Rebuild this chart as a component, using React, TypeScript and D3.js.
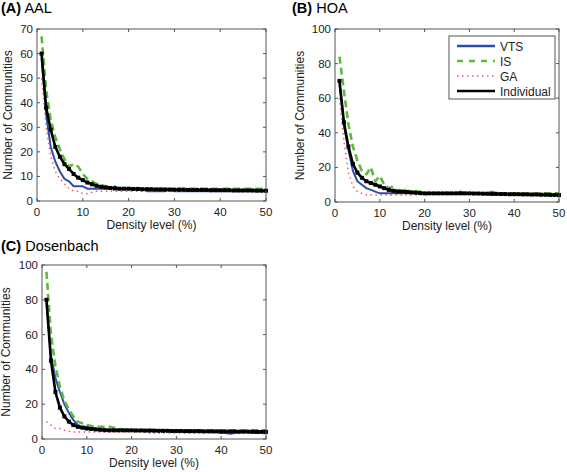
import React from "react";
import * as d3 from "d3";

const density = d3.range(1, 51);

// Panel A (AAL)
const aalVTS = [58,35,22,16,12,9,8,6,6,6,5,5,5,5,5,5,6,5,5,5,5,5,5,4,4,4,4,4,5,4,4,4,4,4,4,4,4,4,4,4,4,4,4,4,4,4,4,4,4,4];
const aalIS = [67,45,33,26,21,17,14,15,14,11,9,8,7,6.5,6,5.5,5.2,5,5,5,5,5,5,5,5,5,5,5,5,5,5,5,5,5,5,5,5,5,5,5,5,5,5,5,5,5,5,5,5,5];
const aalGA = [50,30,18,12,9,7,5,4,4,3,3,3.5,4,4,4,4,4,4,4,4,4,4,4,4,4,4,4,4,4,4,4,4,4,4,4,4,4,4,4,4,4,4,4,4,4,4,4,4,4,4];
const aalInd = [60,38,29,22,18,15,13,11,9.5,8.5,7.5,6.8,6.2,5.8,5.5,5.3,5.1,5,5,5,4.9,4.9,4.8,4.8,4.8,4.7,4.7,4.7,4.6,4.6,4.6,4.6,4.5,4.5,4.5,4.5,4.5,4.4,4.4,4.4,4.4,4.4,4.3,4.3,4.3,4.3,4.3,4.2,4.2,4.2];

// Panel B (HOA)
const hoaVTS = [68,44,30,18,12,10,8,7,6,5,5,5,5,5,5,5,5,5,5,5,5,5,5,5,5,5,5,5,5,5,5,5,4.5,4.5,4.5,4.5,4.5,4.5,4.5,4.5,4.5,4,4,4,4,4,4,4,4,4];
const hoaIS = [84,64,45,32,24,18,16,20,12,15,10,8,9,6,8,6,7,6,6,5,5,5,5,5,5,5,5,6,5,5,5,5,5,5,6,5,5,5,5,5,5,5,5,5,5,5,5,5,5,5];
const hoaGA = [60,35,17,9,6,5,4,4,4,4,4,4,4,4,4,4,4,4,4,4,5,5,5,5,5,5,5,5,5,5,5,5,5,5,5,5,5,5,5,5,5,5,5,5,5,5,5,5,5,5];
const hoaInd = [70,46,32,22,17,14,12,11,10,9,8,7,6.5,6,6,5.8,5.6,5.4,5.2,5,5,5,5,5,5,5,5,5,5,5,4.9,4.9,4.8,4.8,4.7,4.7,4.6,4.6,4.5,4.5,4.5,4.4,4.4,4.3,4.3,4.2,4.2,4.1,4.1,4];

// Panel C (Dosenbach)
const dosVTS = [78,48,35,27,20,15,11,8,7,7,6.5,6,5.5,5.5,5,5,5,5,5,5,5,5,5,5.5,5,5,5,4.5,4.5,4,4,4,4,4,4,4,4,4,4,3.5,3.5,3,3.5,4,4,4,3.5,3.5,4,4];
const dosIS = [96,60,42,30,22,17,13,10,9,8,7.5,7,7,7,7,6.5,6,5.5,5,5,5,5.5,5,5,5,5,5,5,5,5,5,5,5,5,5,5,5,5,5,5,5,5,5,5,5,5,5,5,5,5];
const dosGA = [10,8,6,6,5,4.5,4,4,4,4,4,4,4,4,4,4,4,4,4,4,4,4,4,3.5,3.5,3.5,3.5,3.5,3.5,3.5,3.5,3.5,3.5,3.5,3.5,3.5,3.5,3.5,3.5,3.5,3,3.5,3.5,3.5,3.5,3.5,3.5,3.5,3,3];
const dosInd = [80,45,27,18,13,10,8,7,6.5,6,5.8,5.5,5.3,5.1,5,5,5,5,5,5,4.9,4.9,4.8,4.8,4.8,4.7,4.7,4.7,4.6,4.6,4.6,4.5,4.5,4.5,4.5,4.4,4.4,4.4,4.4,4.3,4.3,4.3,4.3,4.2,4.2,4.2,4.2,4.1,4.1,4.1];

const xTicks = [0, 10, 20, 30, 40, 50];
const legendLabels = ["VTS", "IS", "GA", "Individual"];

const FONT = "Liberation Sans, Arial, Helvetica, sans-serif";

const styles = [
  { color: "#2b4fa8", width: 2, dash: "", lw: 2.4, ldash: "" },
  { color: "#5dbb3a", width: 2.6, dash: "7,4", lw: 2.4, ldash: "6,6" },
  { color: "#f25a5a", width: 1.5, dash: "1.5,3.5", lw: 1.5, ldash: "1.5,3.5" },
  { color: "#000000", width: 2.6, dash: "", lw: 2.4, ldash: "" },
];

type PanelProps = {
  letter: string;
  name: string;
  series: number[][];
  yMax: number;
  yStep: number;
  left: number;
  right: number;
  top: number;
  bottom: number;
  titleY: number;
  titleX: number;
  yLabelX: number;
  legend?: boolean;
};

function Panel(p: PanelProps) {
  const x = d3.scaleLinear().domain([0, 50]).range([p.left, p.right]);
  const y = d3.scaleLinear().domain([0, p.yMax]).range([p.bottom, p.top]);
  const yTicks = d3.range(0, p.yMax + 0.001, p.yStep);
  const line = d3
    .line<number>()
    .x((_, i) => x(density[i]))
    .y((d) => y(d));
  const midX = (p.left + p.right) / 2;
  const midY = (p.top + p.bottom) / 2;
  const ind = p.series[3];
  return (
    <g>
      <text x={p.titleX} y={p.titleY} fontFamily={FONT} fontSize={14.5} fill="#000">
        <tspan fontWeight="bold">({p.letter})</tspan>
        <tspan> {p.name}</tspan>
      </text>
      <rect x={p.left} y={p.top} width={p.right - p.left} height={p.bottom - p.top} fill="#fff" stroke="none" />
      <g>
        {p.series.map((s, k) => (
          <path
            key={k}
            d={line(s) || ""}
            fill="none"
            stroke={styles[k].color}
            strokeWidth={styles[k].width}
            strokeDasharray={styles[k].dash}
            strokeLinejoin="round"
          />
        ))}
        {ind.map((v, i) => (
          <rect key={i} x={x(density[i]) - 2} y={y(v) - 2} width={4} height={4} fill="#000" />
        ))}
      </g>
      <rect x={p.left} y={p.top} width={p.right - p.left} height={p.bottom - p.top} fill="none" stroke="#555" strokeWidth={1} />
      {xTicks.map((t) => (
        <g key={"x" + t}>
          <line x1={x(t)} x2={x(t)} y1={p.bottom} y2={p.bottom - 3} stroke="#555" />
          <line x1={x(t)} x2={x(t)} y1={p.top} y2={p.top + 3} stroke="#555" />
          <text x={x(t)} y={p.bottom + 15} textAnchor="middle" fontFamily={FONT} fontSize={11.5} fill="#222">
            {t}
          </text>
        </g>
      ))}
      {yTicks.map((t) => (
        <g key={"y" + t}>
          <line x1={p.left} x2={p.left + 3} y1={y(t)} y2={y(t)} stroke="#555" />
          <line x1={p.right} x2={p.right - 3} y1={y(t)} y2={y(t)} stroke="#555" />
          <text x={p.left - 4} y={y(t) + 4} textAnchor="end" fontFamily={FONT} fontSize={11.5} fill="#222">
            {t}
          </text>
        </g>
      ))}
      <text x={midX} y={p.bottom + 28} textAnchor="middle" fontFamily={FONT} fontSize={12} fill="#222">
        Density level (%)
      </text>
      <text
        transform={`translate(${p.yLabelX},${midY}) rotate(-90)`}
        textAnchor="middle"
        fontFamily={FONT}
        fontSize={12}
        fill="#222"
      >
        Number of Communities
      </text>
      {p.legend && (
        <g>
          <rect x={449} y={36} width={106} height={63} fill="#fff" stroke="#555" strokeWidth={1} />
          {legendLabels.map((lab, k) => {
            const ly = 46 + k * 15;
            return (
              <g key={lab}>
                <line
                  x1={457}
                  x2={495}
                  y1={ly}
                  y2={ly}
                  stroke={styles[k].color}
                  strokeWidth={styles[k].lw}
                  strokeDasharray={styles[k].ldash}
                />
                <text x={500} y={ly + 4.5} fontFamily={FONT} fontSize={12} fill="#222">
                  {lab}
                </text>
              </g>
            );
          })}
        </g>
      )}
    </g>
  );
}

export default function App() {
  return (
    <svg
      width={567}
      height={472}
      style={{ position: "absolute", left: 0, top: 0, background: "#fff" }}
    >
      <rect x={0} y={0} width={567} height={472} fill="#fff" />
      <Panel
        letter="A"
        name="AAL"
        series={[aalVTS, aalIS, aalGA, aalInd]}
        yMax={70}
        yStep={10}
        left={37}
        right={266}
        top={29}
        bottom={201}
        titleX={1}
        titleY={13}
        yLabelX={12}
      />
      <Panel
        letter="B"
        name="HOA"
        series={[hoaVTS, hoaIS, hoaGA, hoaInd]}
        yMax={100}
        yStep={20}
        left={335}
        right={559}
        top={29}
        bottom={202}
        titleX={292}
        titleY={13}
        yLabelX={304}
        legend
      />
      <Panel
        letter="C"
        name="Dosenbach"
        series={[dosVTS, dosIS, dosGA, dosInd]}
        yMax={100}
        yStep={20}
        left={42}
        right={266}
        top={265}
        bottom={439}
        titleX={1}
        titleY={251}
        yLabelX={10}
      />
    </svg>
  );
}
